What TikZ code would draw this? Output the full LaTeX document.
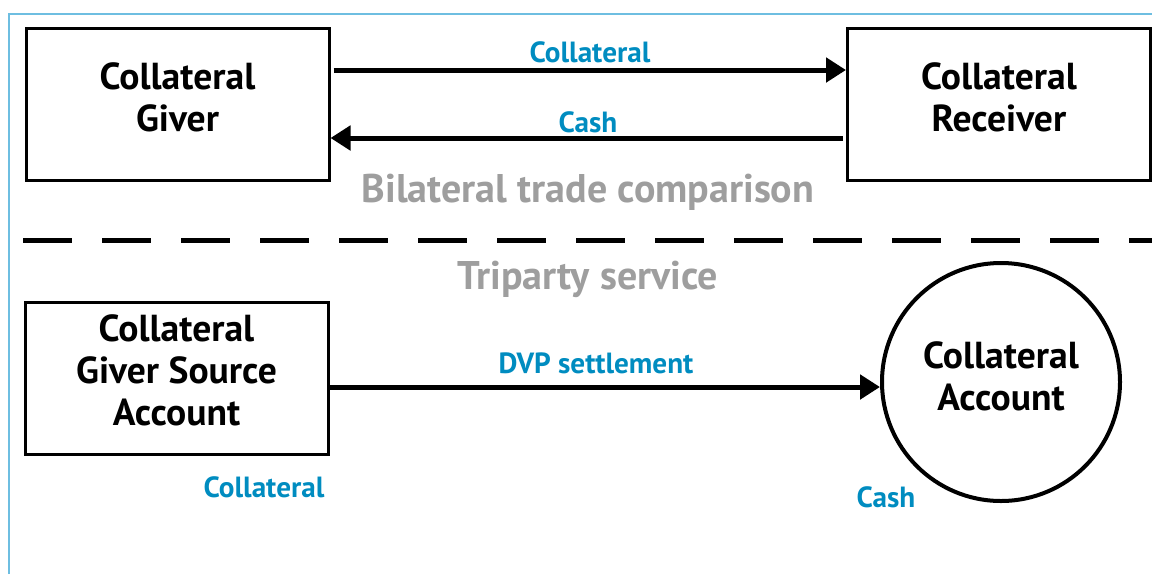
\documentclass[tikz,border=0pt]{standalone}
\usepackage{fontspec}
\setmainfont{PT Sans}
\usepackage{tikz}
\usetikzlibrary{arrows.meta}

\definecolor{flowblue}{RGB}{0,140,192}
\definecolor{framecol}{RGB}{110,190,225}
\definecolor{titlegray}{RGB}{158,158,158}

\tikzset{
	box/.style={draw, line width=1.5pt, rectangle, minimum width=151.5pt, minimum height=76pt, inner sep=0pt},
	account/.style={draw, line width=2pt, circle, minimum size=119pt, inner sep=0pt},
	boxtext/.style={font=\bfseries\fontsize{18.8}{21}\selectfont, align=center},
	flowlabel/.style={font=\bfseries\fontsize{14.6}{16}\selectfont, text=flowblue},
	title/.style={font=\bfseries\fontsize{20}{22}\selectfont, text=titlegray},
	flow/.style={line width=2.5pt, -{Triangle[length=10pt, width=12pt]}}
}

\begin{document}
\begin{tikzpicture}[x=0.5pt, y=-0.5pt]
	\useasboundingbox (0,0) rectangle (1152,574);

	%frame
	\draw[framecol, line width=0.75pt] (9,574) -- (9,14) -- (1152,14);

	%bilateral
	\node[box] (giver) at (177.5,104) {};
	\node[boxtext] (givertext) at ([yshift=3.5pt]giver.center) {Collateral\\Giver};
	\node[box] (receiver) at (999,104) {};
	\node[boxtext] (receivertext) at ([yshift=3.5pt]receiver.center) {Collateral\\Receiver};

	\draw[flow, shorten <=1.5pt] ([yshift=17pt]giver.east) -- ([yshift=17pt]receiver.west);
	\draw[flow, shorten <=1.5pt] ([yshift=-17pt]receiver.west) -- ([yshift=-17pt]giver.east);
	\node[flowlabel] (coll) at (590,52) {Collateral};
	\node[flowlabel] (cash) at (588,122) {Cash};

	\node[title] (bilat) at (588,192) {Bilateral trade comparison};

	%separator
	\draw[line width=2.5pt, dash pattern=on 24.5pt off 15pt] (23,240.5) -- (1152,240.5);

	\node[title] (tri) at (588,279) {Triparty service};

	%triparty
	\node[box] (source) at (176.5,378) {};
	\node[boxtext] (sourcetext) at ([yshift=4pt]source.center) {Collateral\\Giver Source\\Account};
	\node[account] (acct) at (1001,382) {};
	\node[boxtext] (accttext) at ([yshift=3pt]acct.center) {Collateral\\Account};

	\draw[flow] ([yshift=-4.5pt]source.east) -- ([yshift=-2.5pt]acct.west);
	\node[flowlabel] (dvp) at (596,363) {DVP settlement};

	\node[flowlabel] (coll2) at (264,487) {Collateral};
	\node[flowlabel] (cash2) at (886,497) {Cash};
\end{tikzpicture}
\end{document}
